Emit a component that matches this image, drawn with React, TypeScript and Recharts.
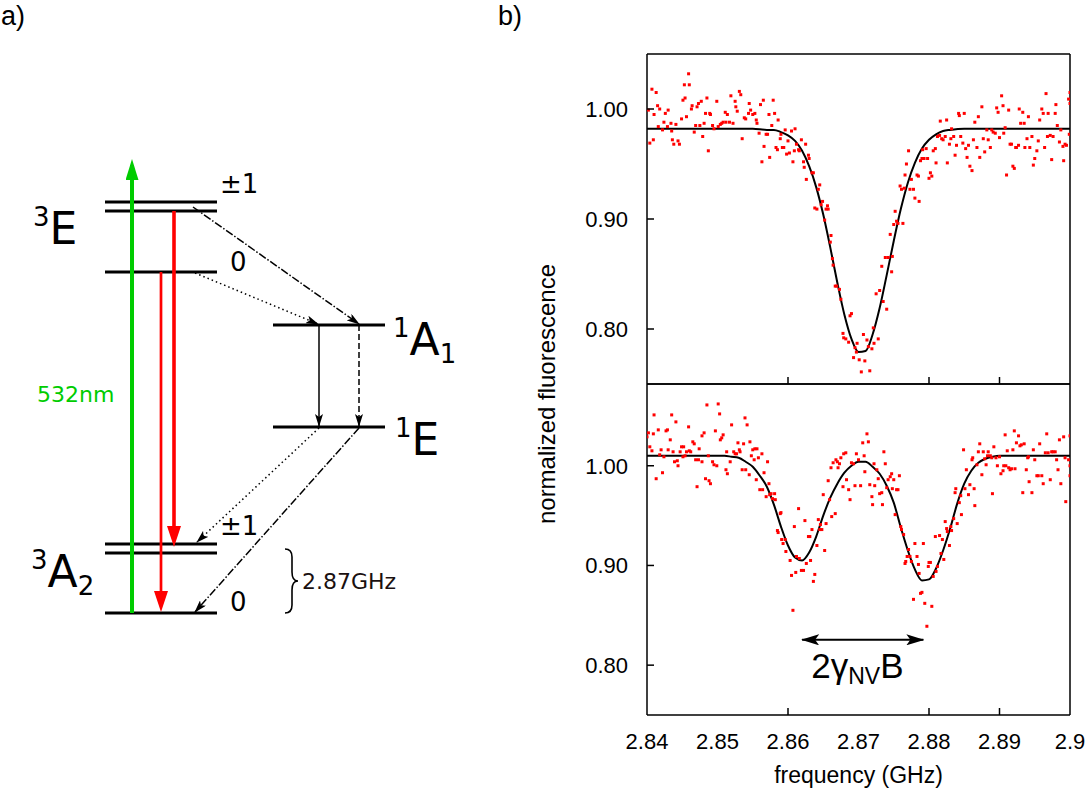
import React from "react";
import { ComposedChart, Line, Scatter, XAxis, YAxis, ReferenceLine, Label } from "recharts";

const SANS = "'Liberation Sans', Arial, sans-serif";
const DEJAVU = "'DejaVu Sans', sans-serif";

// ---------- panel a: level scheme (diagram units, energy upward) ----------
// [x start, x end, energy]
const levels: [number, number, number][] = [
  [10.5, 21.7, 59.0],
  [10.5, 21.7, 58.1],
  [10.5, 21.7, 52.0],
  [27.3, 38.5, 46.7],
  [27.3, 38.5, 36.5],
  [10.5, 21.7, 24.8],
  [10.5, 21.7, 23.9],
  [10.5, 21.7, 17.9],
];

const transitions: { kind: string; from: [number, number]; to: [number, number] }[] = [
  { kind: "pump", from: [13.2, 17.9], to: [13.2, 62.7] },
  { kind: "fluorThick", from: [17.4, 58.1], to: [17.4, 25.1] },
  { kind: "fluor", from: [16.1, 52.0], to: [16.1, 18.6] },
  { kind: "dashDot", from: [19.3, 58.5], to: [35.9, 46.8] },
  { kind: "dotted", from: [19.5, 51.9], to: [31.8, 46.8] },
  { kind: "solid", from: [31.9, 46.7], to: [31.9, 36.6] },
  { kind: "dashed", from: [35.9, 46.7], to: [35.9, 36.6] },
  { kind: "dotted", from: [31.9, 36.4], to: [19.7, 25.0] },
  { kind: "dashDot", from: [35.9, 36.4], to: [19.5, 18.0] },
];

const stateLabels = [
  { x: 3.3, y: 54.8, sup: "3", main: "E", sub: "" },
  { x: 39.3, y: 43.7, sup: "1", main: "A", sub: "1" },
  { x: 39.5, y: 33.7, sup: "1", main: "E", sub: "" },
  { x: 3.1, y: 20.5, sup: "3", main: "A", sub: "2" },
];

const spinLabels = [
  { x: 22.0, y: 59.9, text: "±1" },
  { x: 23.0, y: 52.1, text: "0" },
  { x: 22.0, y: 25.7, text: "±1" },
  { x: 23.0, y: 18.1, text: "0" },
];

const noteLabels = [
  { x: 3.7, y: 39.0, text: "532nm", kind: "pump" },
  { x: 30.2, y: 20.3, text: "2.87GHz", kind: "split" },
];

const braces = [{ x: 29.1, y: 21.1 }];

const transitionStyle: Record<string, { color: string; width: number; dash?: string; head: string }> = {
  pump: { color: "#00cc00", width: 4, head: "head-green" },
  fluorThick: { color: "#ff0000", width: 3.6, head: "head-red" },
  fluor: { color: "#ff0000", width: 2.7, head: "head-red" },
  dashDot: { color: "#000", width: 1.5, dash: "8 2 1.5 2", head: "head-black" },
  dotted: { color: "#000", width: 1.5, dash: "1.5 3", head: "head-black" },
  solid: { color: "#000", width: 1.5, head: "head-black" },
  dashed: { color: "#000", width: 1.5, dash: "6 3", head: "head-black" },
};

// ---------- panel b: ODMR spectra ----------
const freqTicks = [2.84, 2.85, 2.86, 2.87, 2.88, 2.89, 2.9];
const markedFreqs = [2.86, 2.88, 2.89];
const fluoTicks = [0.8, 0.9, 1.0];

// measured points, zero field [frequency GHz, normalized fluorescence]
const topPoints: [number, number][] = [
  [2.8402, 0.999], [2.8404, 0.969], [2.8407, 1.018], [2.8409, 0.972], [2.841, 0.995], [2.8413, 1.015], [2.8415, 1.003], [2.8416, 0.984], [2.8418, 1.0], [2.8422, 0.981],
  [2.8424, 0.988], [2.8426, 0.996], [2.8429, 0.984], [2.843, 0.999], [2.8434, 0.987], [2.8435, 0.98], [2.8436, 0.972], [2.8438, 0.968], [2.8441, 0.986], [2.8444, 0.971],
  [2.8446, 0.968], [2.8449, 0.991], [2.8451, 1.008], [2.8453, 1.022], [2.8454, 1.01], [2.8456, 0.993], [2.8459, 1.032], [2.846, 1.022], [2.8463, 1.0], [2.8464, 1.003],
  [2.8467, 0.979], [2.8469, 0.985], [2.8471, 1.002], [2.8473, 1.005], [2.8475, 0.985], [2.8477, 1.007], [2.8479, 0.975], [2.8481, 0.987], [2.8483, 0.996], [2.8485, 1.01],
  [2.8487, 0.962], [2.8489, 0.996], [2.849, 0.995], [2.8493, 0.985], [2.8495, 0.982], [2.8499, 1.007], [2.8501, 0.984], [2.8504, 0.986], [2.8506, 0.987], [2.8508, 0.988],
  [2.8511, 0.997], [2.8512, 0.988], [2.8514, 0.995], [2.8517, 0.988], [2.8519, 1.012], [2.8522, 0.987], [2.8525, 1.007], [2.8526, 1.002], [2.8528, 0.998], [2.8531, 1.016],
  [2.8533, 1.013], [2.8535, 0.973], [2.8538, 0.992], [2.854, 0.991], [2.8544, 0.996], [2.8545, 1.005], [2.8547, 0.999], [2.855, 0.995], [2.8553, 0.996], [2.8555, 0.99],
  [2.8556, 0.987], [2.8559, 0.978], [2.8561, 1.004], [2.8563, 0.952], [2.8565, 1.008], [2.8566, 0.966], [2.8569, 0.977], [2.8571, 0.977], [2.8573, 0.995], [2.8574, 0.956],
  [2.8577, 0.985], [2.8579, 1.008], [2.8581, 0.996], [2.8583, 0.965], [2.8585, 0.963], [2.8586, 0.99], [2.8589, 0.973], [2.859, 0.977], [2.8592, 0.965], [2.8594, 0.965],
  [2.8596, 0.981], [2.8598, 0.959], [2.86, 0.971], [2.8602, 0.96], [2.8605, 0.98], [2.8607, 0.952], [2.8609, 0.962], [2.861, 0.982], [2.8612, 0.968], [2.8615, 0.963],
  [2.8616, 0.962], [2.8619, 0.972], [2.8622, 0.952], [2.8623, 0.947], [2.8625, 0.968], [2.8626, 0.936], [2.8629, 0.958], [2.863, 0.955], [2.8634, 0.942], [2.8636, 0.942],
  [2.8638, 0.91], [2.8641, 0.909], [2.8643, 0.927], [2.8645, 0.931], [2.8647, 0.913], [2.8649, 0.916], [2.8652, 0.899], [2.8654, 0.909], [2.8656, 0.912], [2.8657, 0.909],
  [2.866, 0.879], [2.8661, 0.885], [2.8663, 0.864], [2.8664, 0.858], [2.8667, 0.839], [2.8669, 0.839], [2.8673, 0.836], [2.8675, 0.827], [2.8678, 0.796], [2.8679, 0.792],
  [2.8682, 0.791], [2.8686, 0.788], [2.8688, 0.812], [2.869, 0.814], [2.8693, 0.774], [2.8695, 0.783], [2.8697, 0.779], [2.8698, 0.787], [2.8701, 0.772],
  [2.8704, 0.761], [2.8707, 0.795], [2.8709, 0.771], [2.8712, 0.79], [2.8714, 0.784], [2.8716, 0.762], [2.8719, 0.782], [2.8721, 0.801], [2.8722, 0.787], [2.8725, 0.832],
  [2.8728, 0.791], [2.873, 0.835], [2.8733, 0.857], [2.8735, 0.825], [2.8738, 0.865], [2.874, 0.818], [2.8742, 0.865], [2.8745, 0.886], [2.8747, 0.852], [2.8748, 0.866],
  [2.875, 0.895], [2.8752, 0.907], [2.8754, 0.898], [2.8756, 0.896], [2.8759, 0.93], [2.8761, 0.927], [2.8763, 0.896], [2.8765, 0.928], [2.8766, 0.94], [2.8768, 0.95],
  [2.8771, 0.962], [2.8773, 0.927], [2.8775, 0.936], [2.8778, 0.927], [2.878, 0.919], [2.8783, 0.94], [2.8785, 0.939], [2.8786, 0.916], [2.8788, 0.953], [2.879, 0.955],
  [2.8791, 0.963], [2.8793, 0.955], [2.8796, 0.964], [2.8798, 0.955], [2.88, 0.937], [2.8802, 0.942], [2.8804, 0.939], [2.8806, 0.962], [2.8809, 0.964], [2.881, 0.951],
  [2.8812, 0.975], [2.8815, 0.976], [2.8816, 0.989], [2.8818, 0.973], [2.882, 0.972], [2.8823, 0.975], [2.8825, 0.99], [2.8826, 0.951], [2.8829, 0.968], [2.8831, 0.973],
  [2.8832, 0.982], [2.8835, 0.975], [2.8837, 0.958], [2.8839, 0.967], [2.8842, 0.996], [2.8843, 0.994], [2.8845, 0.975], [2.8848, 0.969], [2.885, 0.996], [2.8852, 0.964],
  [2.8854, 0.956], [2.8856, 0.967], [2.8858, 0.948], [2.8861, 0.944], [2.8863, 0.972], [2.8865, 0.988], [2.8868, 0.965], [2.887, 0.993], [2.8872, 0.956], [2.8875, 1.002],
  [2.8877, 0.973], [2.8879, 0.961], [2.8882, 0.981], [2.8884, 0.972], [2.8887, 0.965], [2.8889, 0.981], [2.8891, 0.979], [2.8894, 0.978], [2.8896, 1.001], [2.8898, 0.997],
  [2.89, 0.974], [2.8903, 1.012], [2.8905, 1.003], [2.8906, 0.978], [2.8908, 0.983], [2.891, 0.94], [2.8913, 0.999], [2.8915, 0.968], [2.8917, 0.968], [2.8919, 0.948],
  [2.8921, 0.946], [2.8923, 0.965], [2.8924, 0.965], [2.8927, 0.967], [2.8928, 1.0], [2.893, 0.987], [2.8933, 0.997], [2.8935, 0.987], [2.8936, 0.965], [2.8939, 0.973],
  [2.8941, 0.993], [2.8943, 0.965], [2.8946, 0.975], [2.8948, 0.949], [2.895, 0.955], [2.8953, 0.962], [2.8955, 0.971], [2.8957, 0.99], [2.896, 1.0], [2.8962, 0.996],
  [2.8964, 0.965], [2.8966, 1.014], [2.8968, 0.975], [2.8969, 0.996], [2.8972, 0.976], [2.8974, 0.954], [2.8976, 0.975], [2.8979, 0.996], [2.898, 1.004], [2.8982, 0.985],
  [2.8985, 0.97], [2.8987, 0.981], [2.899, 0.966], [2.8991, 0.953], [2.8993, 0.968], [2.8995, 0.967], [2.8998, 1.009], [2.8999, 0.977], [2.9, 1.015], [2.9, 1.005],
];

// fitted curve, zero field
const topFit: [number, number][] = [
  [2.84, 0.982], [2.85, 0.982], [2.855, 0.982], [2.857, 0.981], [2.858, 0.981], [2.859, 0.979], [2.86, 0.976], [2.861, 0.971],
  [2.862, 0.962], [2.863, 0.948], [2.864, 0.929], [2.865, 0.904], [2.866, 0.874], [2.867, 0.842], [2.868, 0.813], [2.869, 0.791],
  [2.87, 0.779], [2.871, 0.78], [2.872, 0.795], [2.873, 0.819], [2.874, 0.849], [2.875, 0.88], [2.876, 0.909], [2.877, 0.933],
  [2.878, 0.951], [2.879, 0.964], [2.88, 0.972], [2.881, 0.977], [2.882, 0.98], [2.883, 0.981], [2.885, 0.982], [2.89, 0.982], [2.9, 0.982],
];

// measured points, with field
const bottomPoints: [number, number][] = [
  [2.84, 1.029], [2.8402, 1.033], [2.8404, 1.019], [2.8407, 1.015], [2.8409, 1.032], [2.841, 1.051], [2.8413, 0.987], [2.8416, 1.036], [2.8418, 1.011], [2.842, 1.016],
  [2.8422, 0.993], [2.8424, 1.009], [2.8427, 1.035], [2.8429, 1.036], [2.843, 1.016], [2.8433, 1.026], [2.8435, 1.051], [2.8437, 1.014], [2.8439, 1.004], [2.8441, 1.044],
  [2.8443, 1.005], [2.8444, 1.0], [2.8447, 1.014], [2.8449, 1.019], [2.8451, 1.009], [2.8452, 1.019], [2.8454, 1.01], [2.8456, 1.014], [2.8459, 1.039], [2.846, 1.015],
  [2.8462, 1.014], [2.8465, 1.024], [2.8467, 1.022], [2.8469, 1.006], [2.8471, 0.979], [2.8473, 1.006], [2.8474, 1.017], [2.8478, 1.03], [2.8478, 1.004], [2.8481, 1.033],
  [2.8483, 0.987], [2.8485, 1.061], [2.8487, 1.01], [2.8488, 0.985], [2.849, 0.982], [2.8493, 1.004], [2.8495, 1.001], [2.8497, 1.035], [2.8499, 1.0], [2.8501, 1.062],
  [2.8503, 1.052], [2.8504, 1.026], [2.8506, 1.028], [2.8508, 1.031], [2.8512, 0.996], [2.8513, 1.014], [2.8514, 0.992], [2.8518, 1.004], [2.852, 1.041], [2.8523, 1.014],
  [2.8525, 1.012], [2.8527, 1.012], [2.8529, 1.023], [2.8531, 1.016], [2.8532, 1.014], [2.8535, 0.996], [2.8537, 1.022], [2.8539, 1.048], [2.854, 0.996], [2.8542, 1.041],
  [2.8545, 0.991], [2.8546, 1.024], [2.8548, 1.01], [2.855, 1.016], [2.8552, 1.006], [2.8553, 1.017], [2.8555, 0.986], [2.8556, 1.017], [2.8558, 1.008], [2.856, 0.976],
  [2.8563, 1.012], [2.8564, 0.976], [2.8566, 0.993], [2.8569, 0.969], [2.8571, 1.004], [2.8573, 0.982], [2.8574, 0.971], [2.8576, 0.972], [2.8578, 0.967], [2.8581, 0.972],
  [2.8582, 0.966], [2.8585, 0.935], [2.8586, 0.933], [2.8589, 0.952], [2.859, 0.953], [2.8591, 0.926], [2.8593, 0.922], [2.8596, 0.926], [2.8597, 0.914], [2.8603, 0.905],
  [2.8605, 0.89], [2.8607, 0.855], [2.8609, 0.939], [2.8611, 0.893], [2.8612, 0.909], [2.8615, 0.957], [2.8616, 0.907], [2.8619, 0.895], [2.8622, 0.895], [2.8624, 0.945],
  [2.8626, 0.902], [2.8629, 0.929], [2.8631, 0.929], [2.8632, 0.905], [2.8634, 0.936], [2.8636, 0.884], [2.8638, 0.891], [2.8641, 0.92], [2.8643, 0.946], [2.8645, 0.936],
  [2.8646, 0.941], [2.8648, 0.936], [2.865, 0.971], [2.8652, 0.915], [2.8654, 0.942], [2.8657, 0.985], [2.8659, 0.966], [2.8661, 0.998], [2.8662, 0.949], [2.8664, 1.003],
  [2.8667, 0.952], [2.8668, 1.006], [2.867, 1.004], [2.8671, 0.998], [2.8673, 1.002], [2.8675, 1.008], [2.8678, 0.979], [2.8679, 1.012], [2.8682, 1.013], [2.8683, 0.986],
  [2.8686, 0.976], [2.8688, 0.966], [2.869, 1.003], [2.8693, 1.002], [2.8695, 0.98], [2.8697, 1.012], [2.87, 1.006],
  [2.8703, 0.98], [2.8706, 1.023], [2.8708, 1.01], [2.8709, 0.994], [2.8712, 1.032], [2.8714, 1.024], [2.8716, 0.981], [2.8719, 0.969], [2.872, 0.961], [2.8722, 1.002],
  [2.8723, 0.98], [2.8726, 0.996], [2.8728, 0.987], [2.873, 0.972], [2.8733, 0.973], [2.8734, 0.961], [2.8736, 1.014], [2.8738, 1.002], [2.874, 0.978], [2.8742, 0.986],
  [2.8745, 0.989], [2.8747, 0.992], [2.8748, 0.977], [2.875, 0.986], [2.8752, 0.951], [2.8754, 0.976], [2.8756, 0.976], [2.8758, 0.99], [2.876, 0.939], [2.8761, 0.936],
  [2.8764, 0.931], [2.8766, 0.902], [2.8767, 0.904], [2.8769, 0.909], [2.8771, 0.916], [2.8773, 0.909], [2.8775, 0.904], [2.8778, 0.866], [2.878, 0.922], [2.8783, 0.909],
  [2.8785, 0.901], [2.8786, 0.892], [2.8788, 0.872], [2.879, 0.873], [2.8792, 0.922], [2.8794, 0.862], [2.8797, 0.839], [2.8799, 0.899], [2.88, 0.903], [2.8802, 0.903],
  [2.8804, 0.859], [2.8806, 0.889], [2.8809, 0.929], [2.881, 0.894], [2.8812, 0.899], [2.8815, 0.93], [2.8817, 0.912], [2.8819, 0.926], [2.8821, 0.906], [2.8823, 0.944],
  [2.8825, 0.937], [2.8826, 0.934], [2.8829, 0.92], [2.8831, 0.939], [2.8832, 0.935], [2.8835, 0.947], [2.8837, 0.973], [2.8838, 0.977], [2.884, 0.942], [2.8843, 0.963],
  [2.8845, 0.97], [2.8846, 0.951], [2.8849, 1.016], [2.8851, 0.977], [2.8853, 0.996], [2.8856, 0.971], [2.8858, 0.981], [2.8861, 1.006], [2.8862, 1.008], [2.8864, 0.977],
  [2.8865, 0.96], [2.8868, 1.001], [2.887, 1.014], [2.8872, 1.022], [2.8875, 0.991], [2.8877, 1.014], [2.8879, 1.007], [2.8881, 1.001], [2.8883, 1.01], [2.8884, 1.014],
  [2.8887, 1.01], [2.8889, 1.008], [2.889, 0.972], [2.8892, 1.019], [2.8895, 1.008], [2.8897, 1.0], [2.89, 1.009], [2.8902, 0.992], [2.8905, 0.995], [2.8906, 1.0],
  [2.8908, 1.031], [2.8909, 1.0], [2.8911, 1.015], [2.8913, 0.998], [2.8915, 0.996], [2.8917, 0.997], [2.8919, 1.016], [2.8921, 1.035], [2.8922, 0.997], [2.8924, 1.023],
  [2.8927, 1.03], [2.8929, 1.02], [2.8931, 1.021], [2.8933, 0.973], [2.8935, 1.022], [2.8938, 0.996], [2.894, 1.008], [2.8941, 1.009], [2.8942, 0.984], [2.8946, 0.973],
  [2.8948, 1.016], [2.895, 1.006], [2.8953, 0.99], [2.8955, 0.99], [2.8957, 1.022], [2.896, 0.99], [2.8962, 0.982], [2.8965, 1.013], [2.8967, 1.032], [2.8969, 1.013],
  [2.8972, 0.986], [2.8974, 1.014], [2.8976, 1.014], [2.8979, 1.014], [2.8981, 1.006], [2.8983, 0.996], [2.8985, 1.026], [2.8987, 0.982], [2.8991, 1.029], [2.8993, 1.008],
  [2.8994, 0.964], [2.8998, 1.006], [2.9, 1.03], [2.9, 1.0], [2.9, 0.99],
];

// fitted curve, with field
const bottomFit: [number, number][] = [
  [2.84, 1.01], [2.85, 1.01], [2.851, 1.01], [2.852, 1.009], [2.853, 1.008], [2.854, 1.004], [2.855, 0.999], [2.856, 0.99],
  [2.857, 0.979], [2.858, 0.961], [2.859, 0.939], [2.86, 0.92], [2.861, 0.908], [2.862, 0.905], [2.863, 0.913], [2.864, 0.929],
  [2.865, 0.95], [2.866, 0.968], [2.867, 0.982], [2.868, 0.993], [2.869, 1.0], [2.87, 1.004], [2.871, 1.004], [2.872, 0.999],
  [2.873, 0.992], [2.874, 0.98], [2.875, 0.963], [2.876, 0.938], [2.877, 0.915], [2.878, 0.896], [2.879, 0.885], [2.88, 0.886],
  [2.881, 0.897], [2.882, 0.915], [2.883, 0.937], [2.884, 0.962], [2.885, 0.982], [2.886, 0.995], [2.887, 1.003], [2.888, 1.007],
  [2.889, 1.009], [2.89, 1.01], [2.9, 1.01],
];

// splitting between the two dips and its annotation
const splitting: [number, number][] = [[2.862, 0.8254], [2.8792, 0.8254]];
const splitLabel = [{ f: 2.8633, v: 0.787 }];

const toFV = (rows: [number, number][]) => rows.map(([f, v]) => ({ f, v }));

const frame = { stroke: "#000", strokeWidth: 1.5 };

const Dot = (p: any) => <rect x={p.cx - 1.5} y={p.cy - 1.5} width={3} height={3} fill="#ff0000" />;

const YTick = (p: any) => (
  <g>
    <text x={p.x} y={p.y} dy={8} textAnchor="end" fontSize={22} fontFamily={SANS} fill="#000">
      {Number(p.payload.value).toFixed(2)}
    </text>
    <line x1={p.x + 19} x2={p.x + 26} y1={p.y} y2={p.y} stroke="#000" strokeWidth={1.5} />
  </g>
);

const MarkTick = (p: any) =>
  markedFreqs.includes(p.payload.value) ? (
    <line x1={p.x} x2={p.x} y1={p.y} y2={p.y - 7} stroke="#000" strokeWidth={1.5} />
  ) : (
    <g />
  );

const FreqTick = (p: any) => (
  <g>
    <text x={p.x} y={p.y + 16} textAnchor="middle" fontSize={22} fontFamily={SANS} fill="#000">
      {p.payload.value}
    </text>
    {markedFreqs.includes(p.payload.value) && (
      <line x1={p.x} x2={p.x} y1={p.y - 18} y2={p.y - 25} stroke="#000" strokeWidth={1.5} />
    )}
  </g>
);

const StateLabel = (p: any) => {
  const d = p.payload;
  return (
    <text x={p.cx} y={p.cy} fontFamily={DEJAVU} fill="#000">
      <tspan fontSize={26} dy={-18}>{d.sup}</tspan>
      <tspan fontSize={44} dy={18}>{d.main}</tspan>
      {d.sub && <tspan fontSize={26} dy={8}>{d.sub}</tspan>}
    </text>
  );
};

const SpinLabel = (p: any) => (
  <text x={p.cx} y={p.cy} fontFamily={DEJAVU} fontSize={26} fill="#000">{p.payload.text}</text>
);

const NoteLabel = (p: any) => (
  <text x={p.cx} y={p.cy} fontFamily={DEJAVU} fontSize={22} fill={p.payload.kind === "pump" ? "#00cc00" : "#1a1010"}>
    {p.payload.text}
  </text>
);

const Brace = (p: any) => (
  <path
    d={`M${p.cx - 6},${p.cy - 32} q7,0 7,8 v15 q0,9 6,9 q-6,0 -6,9 v15 q0,8 -7,8`}
    fill="none"
    stroke="#000"
    strokeWidth={1.6}
  />
);

const SplitText = (p: any) => (
  <text x={p.cx} y={p.cy} fontFamily={SANS} fill="#000">
    <tspan fontSize={35}>2γ</tspan>
    <tspan fontSize={23} dy={6}>NV</tspan>
    <tspan fontSize={35} dy={-6}>B</tspan>
  </text>
);

function LevelScheme() {
  return (
    <ComposedChart width={470} height={792} margin={{ top: 0, right: 0, bottom: 0, left: 0 }}>
      <XAxis type="number" dataKey="x" domain={[0, 47]} hide />
      <YAxis type="number" dataKey="y" domain={[0, 79.2]} hide />
      {levels.map(([x1, x2, e], i) => (
        <ReferenceLine
          key={`lv${i}`}
          segment={[{ x: x1, y: e }, { x: x2, y: e }]}
          stroke="#000"
          strokeWidth={3}
          ifOverflow="visible"
        />
      ))}
      {transitions.map((t, i) => {
        const s = transitionStyle[t.kind];
        return (
          <ReferenceLine
            key={`tr${i}`}
            segment={[{ x: t.from[0], y: t.from[1] }, { x: t.to[0], y: t.to[1] }]}
            ifOverflow="visible"
            shape={(p: any) => (
              <line
                x1={p.x1}
                y1={p.y1}
                x2={p.x2}
                y2={p.y2}
                stroke={s.color}
                strokeWidth={s.width}
                strokeDasharray={s.dash}
                markerEnd={`url(#${s.head})`}
              />
            )}
          />
        );
      })}
      <Scatter data={stateLabels} shape={StateLabel} isAnimationActive={false} />
      <Scatter data={spinLabels} shape={SpinLabel} isAnimationActive={false} />
      <Scatter data={noteLabels} shape={NoteLabel} isAnimationActive={false} />
      <Scatter data={braces} shape={Brace} isAnimationActive={false} />
    </ComposedChart>
  );
}

function Spectrum({ points, fit, height, top, domain, bottom }: any) {
  return (
    <ComposedChart
      width={560}
      height={height}
      margin={{ top, right: 19, bottom: 0, left: 0 }}
    >
      <XAxis xAxisId="top" orientation="top" type="number" domain={[2.84, 2.9]} ticks={freqTicks} height={1} tick={false} tickLine={false} axisLine={frame} />
      {bottom ? (
        <XAxis
          type="number"
          dataKey="f"
          domain={[2.84, 2.9]}
          ticks={freqTicks}
          interval={0}
          allowDataOverflow
          height={77}
          tickSize={0}
          tickMargin={18}
          tickLine={false}
          axisLine={frame}
          tick={FreqTick}
        >
          <Label value="frequency (GHz)" position="insideBottom" offset={9} fontSize={23} fontFamily={SANS} fill="#000" />
        </XAxis>
      ) : (
        <XAxis
          type="number"
          dataKey="f"
          domain={[2.84, 2.9]}
          ticks={freqTicks}
          interval={0}
          allowDataOverflow
          height={1}
          tickSize={0}
          tickMargin={0}
          tickLine={false}
          axisLine={frame}
          tick={MarkTick}
        />
      )}
      <YAxis
        type="number"
        dataKey="v"
        domain={domain}
        ticks={fluoTicks}
        interval={0}
        allowDataOverflow
        width={117}
        tickSize={0}
        tickMargin={19}
        tickLine={false}
        axisLine={frame}
        tick={YTick}
      />
      <YAxis yAxisId="right" orientation="right" type="number" domain={domain} ticks={fluoTicks} width={1} tick={false} tickLine={false} axisLine={frame} />
      <Scatter data={toFV(points)} shape={Dot} isAnimationActive={false} />
      <Line data={toFV(fit)} dataKey="v" type="monotone" stroke="#000" strokeWidth={2} dot={false} isAnimationActive={false} />
      {bottom && (
        <ReferenceLine
          segment={[{ x: splitting[0][0], y: splitting[0][1] }, { x: splitting[1][0], y: splitting[1][1] }]}
          ifOverflow="visible"
          shape={(p: any) => (
            <line
              x1={p.x1}
              y1={p.y1}
              x2={p.x2}
              y2={p.y2}
              stroke="#000"
              strokeWidth={2}
              markerStart="url(#head-black-big)"
              markerEnd="url(#head-black-big)"
            />
          )}
        />
      )}
      {bottom && <Scatter data={splitLabel} shape={SplitText} isAnimationActive={false} />}
    </ComposedChart>
  );
}

export default function App() {
  return (
    <div style={{ position: "relative", width: 1090, height: 792, background: "#fff", overflow: "hidden" }}>
      <style>{"body{margin:0}"}</style>
      <svg width={1090} height={792} style={{ position: "absolute", left: 0, top: 0 }}>
        <defs>
          <marker id="head-green" markerUnits="userSpaceOnUse" viewBox="0 0 21 13" markerWidth={21} markerHeight={13} refX={15} refY={6.5} orient="auto">
            <path d="M0,0 L21,6.5 L0,13 Z" fill="#00cc00" />
          </marker>
          <marker id="head-red" markerUnits="userSpaceOnUse" viewBox="0 0 21 14" markerWidth={21} markerHeight={14} refX={15} refY={7} orient="auto">
            <path d="M0,0 L21,7 L0,14 Z" fill="#ff0000" />
          </marker>
          <marker id="head-black" markerUnits="userSpaceOnUse" viewBox="0 0 13 8" markerWidth={13} markerHeight={8} refX={12} refY={4} orient="auto">
            <path d="M0,0 L13,4 L0,8 L3,4 Z" fill="#000" />
          </marker>
          <marker id="head-black-big" markerUnits="userSpaceOnUse" viewBox="0 0 18 11" markerWidth={18} markerHeight={11} refX={17} refY={5.5} orient="auto-start-reverse">
            <path d="M0,0 L18,5.5 L0,11 L4,5.5 Z" fill="#000" />
          </marker>
        </defs>
        <text x={1} y={25} fontSize={27} fontFamily={SANS} fill="#000">a)</text>
        <text x={498} y={25} fontSize={27} fontFamily={SANS} fill="#000">b)</text>
        <text transform="translate(555,394) rotate(-90)" textAnchor="middle" fontSize={24} fontFamily={SANS} fill="#000">
          normalized fluorescence
        </text>
      </svg>
      <div style={{ position: "absolute", left: 0, top: 0 }}>
        <LevelScheme />
      </div>
      <div style={{ position: "absolute", left: 530, top: 0 }}>
        <Spectrum points={topPoints} fit={topFit} height={385} top={53} domain={[0.75, 1.05]} bottom={false} />
      </div>
      <div style={{ position: "absolute", left: 530, top: 383 }}>
        <Spectrum points={bottomPoints} fit={bottomFit} height={409} top={0} domain={[0.75, 1.082]} bottom={true} />
      </div>
    </div>
  );
}
